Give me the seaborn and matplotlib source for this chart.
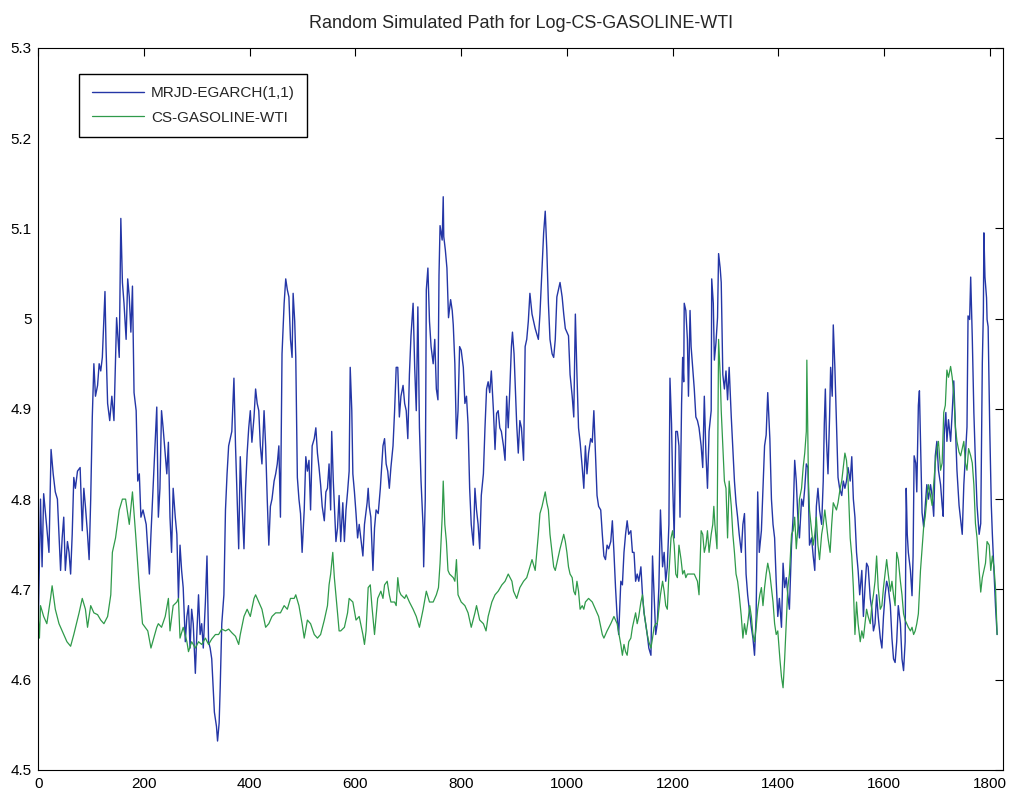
import numpy as np
import pandas as pd
import seaborn as sns
from matplotlib import pyplot as plt
from matplotlib.ticker import FuncFormatter

# simulated path (MRJD-EGARCH(1,1))
sim_day = [0, 4, 7, 10, 16, 20, 24, 28, 32, 36, 39, 42, 45, 48, 51, 55, 58, 61, 64, 67, 70, 74, 79, 83, 86, 89, 93, 96, 99,
           102, 105, 108, 112, 115, 118, 121, 126, 128, 131, 135, 139, 143, 148, 153, 156, 159, 162, 166, 169, 172, 175,
           178, 181, 185, 188, 191, 194, 198, 204, 207, 210, 213,
           224, 227, 230, 233, 236, 243, 246, 249, 252, 255, 259, 262, 265, 268, 271, 274, 278, 281, 284, 287, 290, 293,
           297, 300, 303, 306, 309, 312, 316, 319, 322, 325, 328, 333, 337, 339, 342, 344, 347, 351, 354, 357, 360, 363,
           366, 370, 373, 376, 379, 382, 385, 389, 392, 395, 398, 401, 404, 408, 411, 414, 417, 420, 423, 427, 430, 433,
           436, 439, 442, 446, 449, 452, 455,
           458, 461, 465, 468, 471, 474, 477, 480, 482, 485, 487, 490, 493, 496, 499, 503, 506, 509, 512, 515, 518, 522,
           525, 528, 531, 534, 537, 541, 544, 547, 550, 553, 555, 558, 563, 566, 569, 572, 576, 579, 582, 585, 588, 590,
           593, 595, 598, 601, 604, 607, 610, 614, 617, 622, 624, 626, 629, 633, 636, 639, 643, 647, 652, 655, 658, 661,
           664, 667, 671, 674, 677, 680, 683, 686, 690, 693,
           696, 699, 702, 705, 709, 712, 715, 718, 721, 724, 728, 729, 732, 734, 737, 740, 743, 747, 750, 753, 756, 758,
           760, 764, 766, 767, 770, 773, 776, 780, 783, 785, 788, 791, 794, 797, 800, 804, 807, 810, 813, 816, 819, 823,
           826, 829, 832, 835, 838, 842, 845, 848, 851, 854, 857, 861, 864, 867, 870, 873, 876, 880, 883, 886, 889, 892,
           895, 897, 900, 905, 908, 911, 914, 918, 921, 924, 927, 930,
           934, 940, 946, 949, 953, 956, 959, 962, 965, 968, 972, 975, 978, 981, 984, 987, 991, 994, 997, 1003, 1006,
           1010, 1013, 1016, 1019, 1022, 1025, 1029, 1032, 1035, 1038, 1041, 1045, 1048, 1051, 1054, 1057, 1060, 1064,
           1067, 1070, 1073, 1076, 1079, 1083, 1086, 1089, 1092, 1095, 1098, 1102, 1105, 1108, 1111, 1114, 1117, 1121,
           1124, 1127, 1130, 1133, 1136, 1140, 1143, 1146, 1149, 1152, 1155, 1159, 1162, 1165, 1168,
           1171, 1174, 1177, 1181, 1184, 1187, 1190, 1193, 1195, 1198, 1200, 1203, 1206, 1209, 1212, 1214, 1217, 1219,
           1221, 1222, 1225, 1228, 1230, 1233, 1235, 1238, 1241, 1244, 1247, 1250, 1254, 1257, 1260, 1263, 1266, 1269,
           1273, 1274, 1277, 1279, 1282, 1285, 1287, 1290, 1292, 1295, 1298, 1301, 1304, 1307, 1311, 1314, 1317, 1320,
           1323, 1326, 1330, 1333, 1336, 1339, 1342, 1345, 1349, 1352, 1355, 1358, 1361, 1364, 1368, 1371, 1374, 1377,
           1380, 1384, 1387, 1390, 1393, 1396, 1399, 1402, 1406,
           1409, 1412, 1415, 1418, 1421, 1425, 1428, 1431, 1434, 1437, 1440, 1444, 1447, 1450, 1453, 1456, 1459, 1463,
           1466, 1469, 1472, 1475, 1478, 1482, 1485, 1487, 1489, 1491, 1494, 1497, 1499, 1502, 1504, 1507, 1510, 1513,
           1516, 1520, 1523, 1526, 1529, 1532, 1536, 1539, 1542, 1545, 1548, 1551, 1554, 1558, 1561, 1564, 1567, 1570,
           1574, 1577, 1580, 1583, 1586, 1589, 1593, 1596, 1599, 1602, 1605, 1608, 1612, 1615, 1618, 1621, 1624, 1627,
           1631, 1634,
           1637, 1640, 1642, 1644, 1646, 1650, 1653, 1655, 1657, 1660, 1662, 1665, 1667, 1670, 1672, 1675, 1678, 1681,
           1684, 1688, 1691, 1694, 1697, 1700, 1703, 1707, 1710, 1712, 1714, 1717, 1719, 1722, 1726, 1729, 1732, 1735,
           1738, 1742, 1745, 1748, 1751, 1754, 1757, 1759, 1762, 1764, 1767, 1770, 1773, 1776, 1780, 1783, 1786, 1788,
           1789, 1791, 1794, 1795, 1797, 1800, 1803, 1805, 1808, 1811, 1814]
sim_val = [4.666, 4.800, 4.725, 4.806, 4.768, 4.741, 4.855, 4.828, 4.808, 4.800, 4.761, 4.721, 4.757, 4.780, 4.721,
           4.753, 4.741, 4.717, 4.761, 4.824, 4.812, 4.831, 4.835, 4.765, 4.812, 4.792, 4.761, 4.733, 4.800,
           4.891, 4.950, 4.914, 4.926, 4.950, 4.942, 4.957, 5.030, 4.969, 4.906, 4.887, 4.914, 4.887, 5.001, 4.957, 5.111,
           5.040, 5.017, 4.977, 5.044, 5.024, 4.985, 5.036, 4.918, 4.898, 4.820, 4.828, 4.780, 4.788, 4.772, 4.745,
           4.717, 4.761,
           4.902, 4.780, 4.812, 4.898, 4.879, 4.828, 4.863, 4.780, 4.741, 4.812, 4.780, 4.761, 4.690, 4.749, 4.721,
           4.702, 4.642, 4.670, 4.682, 4.635, 4.678, 4.662, 4.607, 4.654, 4.694, 4.650, 4.662, 4.635, 4.686, 4.737,
           4.642, 4.635, 4.623, 4.564, 4.548, 4.532, 4.552, 4.591, 4.662, 4.694, 4.788, 4.828, 4.859, 4.867, 4.875,
           4.934, 4.859, 4.800, 4.745, 4.847, 4.800, 4.745, 4.812, 4.851, 4.879, 4.898, 4.863, 4.891, 4.922, 4.906,
           4.898, 4.859, 4.839, 4.898, 4.859, 4.800, 4.749, 4.792, 4.800, 4.820, 4.828, 4.839, 4.859,
           4.780, 4.961, 5.017, 5.044, 5.032, 5.024, 4.977, 4.957, 5.028, 4.997, 4.957, 4.824, 4.800, 4.784, 4.741,
           4.788, 4.847, 4.831, 4.843, 4.788, 4.859, 4.867, 4.879, 4.851, 4.835, 4.816, 4.792, 4.776, 4.808, 4.812,
           4.839, 4.788, 4.875, 4.820, 4.753, 4.768, 4.804, 4.753, 4.796, 4.753, 4.788, 4.808, 4.831, 4.946, 4.898,
           4.828, 4.808, 4.784, 4.757, 4.772, 4.757, 4.737, 4.772, 4.796, 4.812, 4.792, 4.780, 4.721, 4.768, 4.788,
           4.784, 4.812, 4.859, 4.867, 4.839, 4.831, 4.812, 4.835, 4.859, 4.898, 4.946, 4.946, 4.891, 4.914, 4.926,
           4.906,
           4.898, 4.867, 4.938, 4.981, 5.017, 4.946, 4.898, 5.013, 4.879, 4.820, 4.768, 4.725, 4.800, 5.032, 5.056,
           4.997, 4.969, 4.950, 4.977, 4.922, 4.910, 5.048, 5.103, 5.087, 5.135, 5.091, 5.076, 5.056, 5.001, 5.021,
           5.009, 4.993, 4.950, 4.867, 4.898, 4.969, 4.965, 4.946, 4.906, 4.914, 4.883, 4.812, 4.772, 4.749, 4.812,
           4.788, 4.772, 4.745, 4.804, 4.828, 4.879, 4.922, 4.930, 4.918, 4.942, 4.898, 4.855, 4.895, 4.898, 4.879,
           4.875, 4.859, 4.843, 4.914, 4.879, 4.922, 4.969, 4.985, 4.961, 4.883, 4.851, 4.887, 4.879, 4.843, 4.969,
           4.977, 4.997, 5.028,
           5.005, 4.989, 4.977, 5.005, 5.056, 5.095, 5.119, 5.076, 5.017, 4.977, 4.961, 4.957, 4.977, 5.024, 5.032,
           5.040, 5.024, 5.005, 4.989, 4.981, 4.938, 4.914, 4.891, 5.005, 4.938, 4.879, 4.863, 4.835, 4.812, 4.859,
           4.828, 4.851, 4.867, 4.863, 4.898, 4.851, 4.804, 4.792, 4.788, 4.761, 4.737, 4.733, 4.749, 4.745, 4.753,
           4.776, 4.741, 4.702, 4.670, 4.650, 4.709, 4.705, 4.741, 4.761, 4.776, 4.761, 4.765, 4.741, 4.741, 4.709,
           4.717, 4.709, 4.725, 4.694, 4.674, 4.662, 4.650, 4.635, 4.627, 4.737, 4.694, 4.650,
           4.662, 4.702, 4.788, 4.725, 4.741, 4.709, 4.725, 4.772, 4.934, 4.883, 4.820, 4.757, 4.875, 4.875, 4.859,
           4.780, 4.906, 4.957, 4.930, 5.017, 5.009, 4.977, 4.914, 5.009, 4.969, 4.946, 4.922, 4.891, 4.887, 4.879,
           4.859, 4.835, 4.914, 4.851, 4.812, 4.875, 4.898, 5.044, 5.017, 4.954, 4.973, 5.001, 5.072, 5.056, 5.040,
           4.938, 4.922, 4.942, 4.910, 4.946, 4.891, 4.855, 4.820, 4.796, 4.780, 4.761, 4.741, 4.772, 4.784, 4.717,
           4.694, 4.678, 4.658, 4.646, 4.627, 4.670, 4.808, 4.741, 4.765, 4.812, 4.859, 4.871, 4.918, 4.867, 4.800,
           4.772, 4.757, 4.709, 4.670, 4.690, 4.658,
           4.729, 4.702, 4.713, 4.694, 4.678, 4.749, 4.780, 4.843, 4.820, 4.780, 4.757, 4.800, 4.792, 4.812, 4.839,
           4.835, 4.749, 4.757, 4.737, 4.721, 4.792, 4.812, 4.788, 4.772, 4.820, 4.883, 4.922, 4.867, 4.828, 4.891,
           4.946, 4.914, 4.993, 4.946, 4.883, 4.824, 4.812, 4.804, 4.820, 4.812, 4.820, 4.835, 4.820, 4.847, 4.800,
           4.780, 4.741, 4.721, 4.694, 4.721, 4.670, 4.702, 4.729, 4.725, 4.690, 4.678, 4.654, 4.662, 4.694, 4.670,
           4.646, 4.635, 4.670, 4.694, 4.709, 4.702, 4.682, 4.646, 4.623, 4.619, 4.642, 4.682, 4.662, 4.623,
           4.610, 4.642, 4.812, 4.761, 4.741, 4.721, 4.693, 4.737, 4.848, 4.840, 4.808, 4.904, 4.920, 4.840, 4.785,
           4.769, 4.793, 4.816, 4.800, 4.816, 4.804, 4.781, 4.848, 4.864, 4.832, 4.816, 4.793, 4.781, 4.872, 4.896,
           4.864, 4.888, 4.864, 4.896, 4.931, 4.880, 4.832, 4.793, 4.777, 4.761, 4.816, 4.848, 4.880, 5.003, 4.999,
           5.046, 4.979, 4.896, 4.840, 4.793, 4.761, 4.773, 4.951, 5.007, 5.095, 5.046, 5.023, 4.999, 4.991, 4.880,
           4.793, 4.761, 4.721, 4.681, 4.650]

obs_day = [0, 2, 4, 10, 16, 23, 26, 32, 39, 45, 54, 61, 67, 77, 83, 89, 93, 99, 105, 112, 118, 124, 131, 137, 140, 146,
           153, 159, 165, 172, 178, 184, 191, 197, 207, 213,
           224, 227, 233, 240, 246, 249, 255, 262, 265, 268, 274, 281, 284, 290, 297, 303, 309, 316, 322, 328, 335, 341,
           347, 354, 360, 366, 373, 379, 382, 389, 395, 401, 408, 411, 417, 423, 430, 436, 442, 449, 455,
           458, 465, 471, 477, 484, 487, 493, 499, 503, 509, 515, 522, 528, 534, 541, 547, 550, 553, 557, 560, 563, 566,
           569, 572, 579, 585, 588, 595, 601, 607, 614, 617, 620, 624, 628, 631, 636, 639, 642, 648, 652, 655, 660, 664,
           667, 674, 677, 680, 683, 686, 693,
           696, 702, 709, 715, 721, 728, 734, 740, 747, 753, 757, 760, 764, 766, 769, 772, 775, 778, 785, 788, 791, 794,
           800, 807, 813, 819, 826, 829, 835, 842, 847, 851, 858, 864, 870, 877, 883, 889, 896, 899, 905, 911, 918, 924,
           930,
           934, 940, 946, 949, 953, 956, 959, 962, 965, 968, 972, 975, 978, 981, 984, 987, 994, 997, 1000, 1003, 1006,
           1010, 1013, 1016, 1019, 1022, 1025, 1029, 1032, 1035, 1041, 1048, 1054, 1060, 1067, 1070, 1076, 1083, 1089,
           1095, 1102, 1105, 1108, 1111, 1114, 1117, 1121, 1124, 1127, 1130, 1133, 1136, 1140, 1143, 1146, 1149, 1152,
           1155, 1159, 1162, 1165, 1168,
           1171, 1177, 1181, 1184, 1187, 1190, 1193, 1197, 1200, 1203, 1206, 1209, 1212, 1216, 1219, 1222, 1225, 1228,
           1235, 1241, 1247, 1250, 1254, 1257, 1260, 1263, 1266, 1269, 1273, 1276, 1278, 1280, 1284, 1285, 1287, 1290,
           1292, 1295, 1298, 1301, 1304, 1307, 1311, 1314, 1317, 1320, 1323, 1326, 1330, 1333, 1336, 1339, 1342, 1346,
           1349, 1352, 1355, 1358, 1361, 1365, 1368, 1371, 1374, 1377, 1380, 1384, 1387, 1390, 1393, 1396, 1399, 1403,
           1406,
           1409, 1412, 1415, 1418, 1421, 1425, 1428, 1431, 1434, 1437, 1440, 1444, 1447, 1450, 1453, 1454, 1457, 1459,
           1463, 1466, 1469, 1472, 1475, 1478, 1482, 1485, 1488, 1491, 1494, 1498, 1501, 1504, 1507, 1510, 1513, 1517,
           1520, 1523, 1526, 1529, 1532, 1536, 1539, 1542, 1545, 1548, 1551, 1555, 1558, 1561, 1564, 1567, 1570, 1574,
           1577, 1580, 1583, 1586, 1589, 1593, 1596, 1599, 1602, 1605, 1608, 1612, 1615, 1618, 1621, 1624, 1627, 1631,
           1634,
           1637, 1640, 1643, 1646, 1650, 1653, 1656, 1659, 1662, 1665, 1669, 1672, 1675, 1678, 1681, 1684, 1688, 1691,
           1694, 1697, 1700, 1703, 1707, 1710, 1713, 1716, 1719, 1722, 1726, 1729, 1732, 1735, 1738, 1742, 1745, 1748,
           1751, 1754, 1757, 1760, 1764, 1767, 1770, 1773, 1776, 1780, 1783, 1786, 1789, 1792, 1795, 1799, 1802, 1805,
           1808, 1811, 1814]
obs_val = [4.666, 4.646, 4.682, 4.670, 4.662, 4.690, 4.704, 4.678, 4.662, 4.654, 4.642, 4.637, 4.650, 4.674, 4.690,
           4.678, 4.658, 4.682, 4.674, 4.672, 4.666, 4.662, 4.670, 4.694, 4.741, 4.757, 4.788, 4.800, 4.800, 4.772,
           4.808, 4.761, 4.702, 4.662, 4.654, 4.635,
           4.658, 4.662, 4.658, 4.670, 4.690, 4.654, 4.682, 4.686, 4.690, 4.646, 4.658, 4.642, 4.631, 4.642, 4.635,
           4.642, 4.639, 4.646, 4.639, 4.645, 4.650, 4.650, 4.656, 4.654, 4.656, 4.652, 4.648, 4.639, 4.650, 4.670,
           4.678, 4.670, 4.690, 4.694, 4.686, 4.678, 4.658, 4.662, 4.670, 4.674, 4.674,
           4.674, 4.682, 4.678, 4.690, 4.690, 4.694, 4.682, 4.662, 4.646, 4.666, 4.662, 4.650, 4.646, 4.650, 4.666,
           4.682, 4.705, 4.717, 4.741, 4.713, 4.694, 4.674, 4.654, 4.654, 4.658, 4.674, 4.690, 4.686, 4.666, 4.670,
           4.650, 4.639, 4.654, 4.702, 4.705, 4.682, 4.650, 4.670, 4.690, 4.698, 4.690, 4.705, 4.709, 4.694, 4.686,
           4.686, 4.682, 4.713, 4.698, 4.694, 4.690,
           4.694, 4.686, 4.678, 4.670, 4.658, 4.678, 4.698, 4.686, 4.686, 4.694, 4.702, 4.729, 4.780, 4.820, 4.772,
           4.753, 4.721, 4.717, 4.713, 4.709, 4.733, 4.694, 4.686, 4.682, 4.674, 4.658, 4.674, 4.682, 4.666, 4.662,
           4.654, 4.670, 4.686, 4.694, 4.698, 4.705, 4.709, 4.717, 4.709, 4.698, 4.690, 4.702, 4.709, 4.713, 4.725,
           4.733, 4.721, 4.761, 4.784, 4.792, 4.800, 4.808, 4.796, 4.788, 4.761, 4.741, 4.725, 4.721, 4.729, 4.737,
           4.745, 4.761, 4.753, 4.741, 4.725, 4.717, 4.713, 4.698, 4.694, 4.709, 4.698, 4.678, 4.682, 4.678, 4.686,
           4.690, 4.686, 4.678, 4.670, 4.650, 4.646, 4.654, 4.662, 4.670, 4.662, 4.639, 4.627, 4.639, 4.631, 4.627,
           4.642, 4.646, 4.658, 4.666, 4.674, 4.662, 4.670, 4.686, 4.694, 4.674, 4.662, 4.650, 4.642, 4.635, 4.646,
           4.658, 4.662,
           4.662, 4.694, 4.709, 4.698, 4.682, 4.678, 4.717, 4.757, 4.765, 4.749, 4.717, 4.713, 4.749, 4.733, 4.717,
           4.721, 4.713, 4.717, 4.717, 4.717, 4.709, 4.694, 4.765, 4.761, 4.741, 4.749, 4.765, 4.741, 4.761, 4.772,
           4.792, 4.772, 4.745, 4.820, 4.977, 4.938, 4.898, 4.859, 4.820, 4.812, 4.757, 4.820, 4.792, 4.761, 4.741,
           4.717, 4.709, 4.694, 4.670, 4.646, 4.662, 4.650, 4.662, 4.682, 4.670, 4.650, 4.642, 4.658, 4.678, 4.694,
           4.702, 4.682, 4.702, 4.717, 4.729, 4.717, 4.702, 4.686, 4.662, 4.650, 4.654, 4.623, 4.603,
           4.591, 4.623, 4.662, 4.702, 4.717, 4.761, 4.765, 4.780, 4.745, 4.768, 4.800, 4.812, 4.835, 4.851, 4.875,
           4.954, 4.820, 4.788, 4.765, 4.749, 4.761, 4.780, 4.749, 4.733, 4.761, 4.772, 4.788, 4.772, 4.757, 4.741,
           4.772, 4.796, 4.792, 4.788, 4.796, 4.812, 4.820, 4.835, 4.851, 4.843, 4.820, 4.757, 4.737, 4.702, 4.650,
           4.686, 4.662, 4.642, 4.654, 4.646, 4.662, 4.678, 4.670, 4.662, 4.682, 4.694, 4.709, 4.737, 4.702, 4.678,
           4.682, 4.702, 4.717, 4.733, 4.717, 4.698, 4.709, 4.694, 4.682, 4.741, 4.733, 4.709, 4.694,
           4.673, 4.666, 4.662, 4.658, 4.654, 4.658, 4.650, 4.654, 4.662, 4.673, 4.721, 4.745, 4.769, 4.781, 4.800,
           4.816, 4.804, 4.793, 4.816, 4.840, 4.856, 4.864, 4.832, 4.840, 4.896, 4.904, 4.943, 4.935, 4.947, 4.935,
           4.916, 4.880, 4.864, 4.852, 4.848, 4.856, 4.864, 4.840, 4.832, 4.856, 4.848, 4.840, 4.816, 4.773, 4.757,
           4.721, 4.697, 4.713, 4.721, 4.729, 4.753, 4.749, 4.721, 4.737, 4.725, 4.701, 4.650]

x_ticks = [0, 200, 400, 600, 800, 1000, 1200, 1400, 1600, 1800]
y_ticks = [4.5, 4.6, 4.7, 4.8, 4.9, 5.0, 5.1, 5.2, 5.3]

sns.set_style("white")
plt.rcParams['font.family'] = ['Liberation Sans', 'DejaVu Sans']

df_sim = pd.DataFrame({'day': sim_day, 'value': sim_val})
df_obs = pd.DataFrame({'day': obs_day, 'value': obs_val})

fig = plt.figure(figsize=(10.10, 7.97), dpi=100)
ax = fig.add_axes([0.038, 0.034, 0.955, 0.906])

sns.lineplot(x='day', y='value', data=df_sim, ax=ax, color='#2436a6', lw=1.0,
             estimator=None, sort=False, label='MRJD-EGARCH(1,1)')
sns.lineplot(x='day', y='value', data=df_obs, ax=ax, color='#2f9a4a', lw=0.9,
             estimator=None, sort=False, label='CS-GASOLINE-WTI')

ax.set_xlim(0, 1825)
ax.set_ylim(4.5, 5.3)
ax.set_xticks(x_ticks)
ax.set_yticks(y_ticks)
ax.yaxis.set_major_formatter(FuncFormatter(lambda v, p: '%g' % round(v, 1)))
ax.set_xlabel('')
ax.set_ylabel('')
ax.tick_params(direction='in', top=True, right=True, length=6, width=0.8,
               labelsize=11, colors='black', pad=5)
for s in ax.spines.values():
    s.set_color('black')
    s.set_linewidth(0.8)

ax.set_title('Random Simulated Path for Log-CS-GASOLINE-WTI', fontsize=13, pad=14)
ax.legend(loc='upper left', bbox_to_anchor=(0.0425, 0.964), borderaxespad=0, frameon=True,
          fancybox=False, edgecolor='black', framealpha=1, handlelength=3.4, handletextpad=0.5,
          fontsize=11, borderpad=0.8, labelspacing=0.7)

fig.savefig('out.png', dpi=100)
